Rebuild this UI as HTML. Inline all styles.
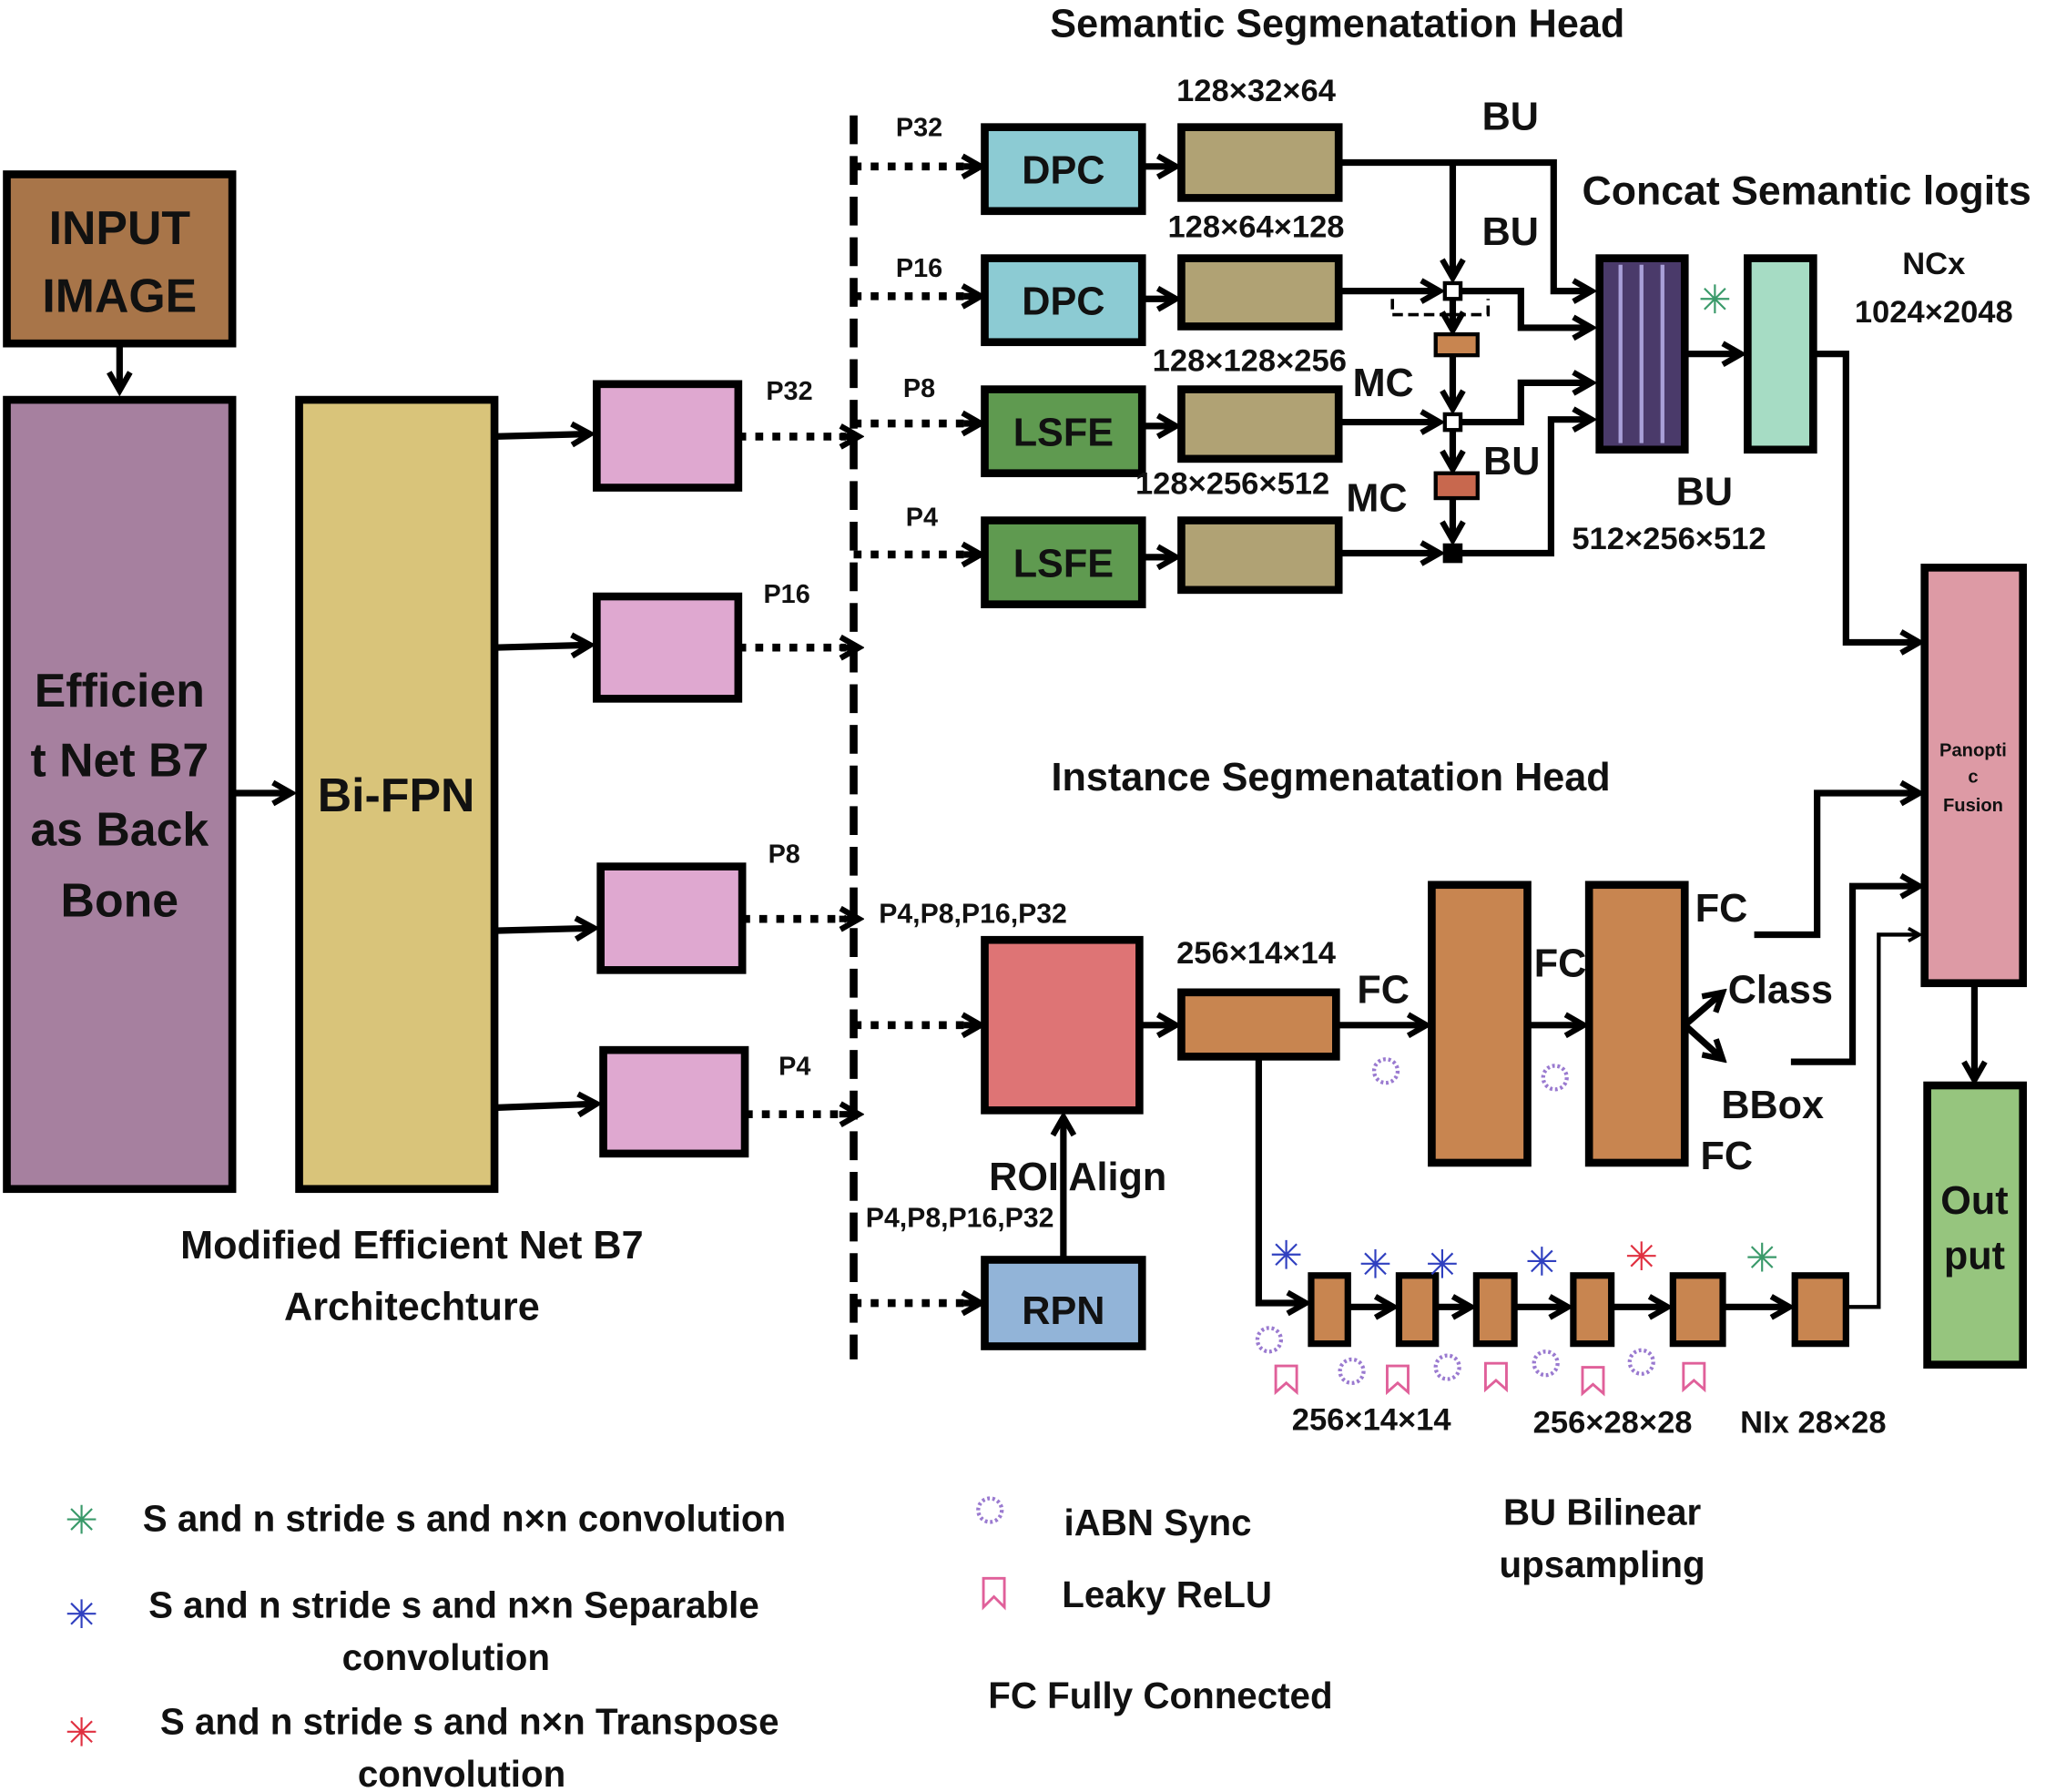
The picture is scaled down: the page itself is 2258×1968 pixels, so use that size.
<!DOCTYPE html>
<html><head><meta charset="utf-8"><style>
html,body{margin:0;padding:0;background:#fff;}
svg{display:block;}
text{font-family:"Liberation Sans",sans-serif;font-weight:bold;fill:#111;}
</style></head><body>
<svg width="2258" height="1968" viewBox="0 0 1568 1367" xmlns="http://www.w3.org/2000/svg">
<defs>
<marker id="a" viewBox="0 0 10 10" refX="8" refY="5" markerWidth="4" markerHeight="4" orient="auto"><path d="M1,1 L8,5 L1,9" fill="none" stroke="#000" stroke-width="2.2"/></marker>
</defs>
<g stroke="#000" stroke-width="6">
<rect x="5" y="133" width="172" height="129" fill="#a87549"/>
<rect x="5" y="305" width="172" height="602" fill="#a6809f"/>
<rect x="228" y="305" width="149" height="602" fill="#d9c47a"/>
<rect x="455" y="293" width="108" height="79" fill="#dfa8d0"/>
<rect x="455" y="455" width="108" height="78" fill="#dfa8d0"/>
<rect x="458" y="661" width="108" height="79" fill="#dfa8d0"/>
<rect x="460" y="801" width="108" height="79" fill="#dfa8d0"/>
<rect x="751" y="97" width="120" height="64" fill="#8ccbd3"/>
<rect x="751" y="197" width="120" height="64" fill="#8ccbd3"/>
<rect x="751" y="297" width="120" height="64" fill="#5f9a50"/>
<rect x="751" y="397" width="120" height="64" fill="#5f9a50"/>
<rect x="901" y="97" width="120" height="54" fill="#b0a274"/>
<rect x="901" y="197" width="120" height="52" fill="#b0a274"/>
<rect x="901" y="297" width="120" height="53" fill="#b0a274"/>
<rect x="901" y="397" width="120" height="53" fill="#b0a274"/>
<rect x="1220" y="197" width="65" height="146" fill="#4a3a6a"/>
<rect x="1333" y="197" width="50" height="146" fill="#a6dcc4"/>
<rect x="1468" y="433" width="75" height="317" fill="#dd9aa5"/>
<rect x="1470" y="828" width="73" height="213" fill="#96c57e"/>
<rect x="751" y="717" width="118" height="130" fill="#de7475"/>
<rect x="901" y="757" width="118" height="49" fill="#c88550"/>
<rect x="1092" y="675" width="73" height="212" fill="#c88550"/>
<rect x="1212" y="675" width="73" height="212" fill="#c88550"/>
<rect x="751" y="961" width="120" height="66" fill="#92b4d8"/>
</g>
<g stroke="#a9a0d8" stroke-width="3">
<line x1="1236" y1="202" x2="1236" y2="338"/><line x1="1252" y1="202" x2="1252" y2="338"/><line x1="1268" y1="202" x2="1268" y2="338"/>
</g>
<g stroke="#000" stroke-width="5" fill="#c88550">
<rect x="1000" y="973" width="28" height="52"/><rect x="1067" y="973" width="28" height="52"/>
<rect x="1126" y="973" width="29" height="52"/><rect x="1200" y="973" width="29" height="52"/>
<rect x="1276" y="973" width="38" height="52"/><rect x="1369" y="973" width="39" height="52"/>
</g>
<g stroke="#000" stroke-width="3">
<rect x="1095" y="255" width="32" height="16" fill="#c88550"/>
<rect x="1095" y="361" width="32" height="19" fill="#c8684e"/>
<rect x="1102" y="216" width="12" height="12" fill="#fff"/>
<rect x="1102" y="316" width="12" height="12" fill="#fff"/>
<rect x="1102" y="416" width="12" height="12" fill="#000"/>
</g>
<!-- solid arrows -->
<g stroke="#000" stroke-width="5" fill="none" marker-end="url(#a)">
<path d="M91,262 V298"/>
<path d="M177,605 H222"/>
<path d="M377,333 L450,331"/><path d="M377,494 L450,492"/><path d="M377,710 L453,708"/><path d="M377,845 L455,842"/>
<path d="M871,127 H897"/><path d="M871,228 H897"/><path d="M871,325 H897"/><path d="M871,425 H897"/>
<path d="M1021,124 H1185 V222 H1214"/>
<path d="M1108,124 V212"/>
<path d="M1021,222 H1098"/>
<path d="M1021,322 H1098"/>
<path d="M1021,422 H1098"/>
<path d="M1108,228 V252"/><path d="M1108,271 V312"/><path d="M1108,328 V358"/><path d="M1108,380 V412"/>
<path d="M1114,222 H1160 V250 H1214"/>
<path d="M1114,322 H1160 V292 H1214"/>
<path d="M1114,422 H1183 V320 H1214"/>
<path d="M1285,270 H1328"/>
<path d="M1383,270 H1408 V490 H1464"/>
<path d="M1506,750 V824"/>
<path d="M869,782 H897"/><path d="M1019,782 H1088"/><path d="M1165,782 H1208"/>
<path d="M811,961 V852"/>
<path d="M960,806 V994 H996"/>
<path d="M1028,997 H1063"/><path d="M1095,997 H1122"/><path d="M1155,997 H1196"/><path d="M1229,997 H1272"/><path d="M1314,997 H1365"/>
<path d="M1338,713 H1386 V605 H1464"/>
<path d="M1366,810 H1413 V676 H1464"/>
<path d="M1285,782 L1314,757"/><path d="M1285,782 L1314,808"/>
</g>
<path d="M1408,997 H1433 V713 H1464" stroke="#000" stroke-width="3" fill="none" marker-end="url(#a)"/>
<path d="M1062,228 V240 H1135 V228" stroke="#000" stroke-width="2.5" stroke-dasharray="8,4" fill="none"/>
<!-- dashed vertical -->
<line x1="651" y1="88" x2="651" y2="1037" stroke="#000" stroke-width="6" stroke-dasharray="22,9"/>
<!-- dotted arrows -->
<g stroke="#000" stroke-width="6" stroke-dasharray="6,7" fill="none">
<path d="M563,333 H645"/><path d="M563,494 H645"/><path d="M566,701 H645"/><path d="M568,850 H645"/>
<path d="M651,127 H740"/><path d="M651,226 H740"/><path d="M651,323 H740"/><path d="M651,423 H740"/>
<path d="M651,782 H740"/><path d="M651,994 H740"/>
</g>
<g stroke="#000" stroke-width="5" fill="none" marker-end="url(#a)">
<path d="M640,333 H655"/><path d="M640,494 H655"/><path d="M640,701 H655"/><path d="M640,850 H655"/>
<path d="M735,127 H748"/><path d="M735,226 H748"/><path d="M735,323 H748"/><path d="M735,423 H748"/>
<path d="M735,782 H748"/><path d="M735,994 H748"/>
</g>
<!-- text -->
<g text-anchor="middle">
<text x="91" y="186" font-size="36">INPUT</text><text x="91" y="238" font-size="36">IMAGE</text>
<text x="91" y="539" font-size="36">Efficien</text><text x="91" y="592" font-size="36">t Net B7</text>
<text x="91" y="645" font-size="36">as Back</text><text x="91" y="699" font-size="36">Bone</text>
<text x="302" y="619" font-size="36">Bi-FPN</text>
<text x="811" y="140" font-size="30">DPC</text><text x="811" y="240" font-size="30">DPC</text>
<text x="811" y="340" font-size="30">LSFE</text><text x="811" y="440" font-size="30">LSFE</text>
<text x="811" y="1010" font-size="30">RPN</text>
<text x="1020" y="28" font-size="30">Semantic Segmenatation Head</text>
<text x="1015" y="603" font-size="30">Instance Segmenatation Head</text>
<text x="958" y="77" font-size="24">128×32×64</text>
<text x="958" y="181" font-size="24">128×64×128</text>
<text x="953" y="283" font-size="24">128×128×256</text>
<text x="940" y="377" font-size="24">128×256×512</text>
<text x="1055" y="302" font-size="30">MC</text><text x="1050" y="390" font-size="30">MC</text>
<text x="1152" y="99" font-size="30">BU</text><text x="1152" y="187" font-size="30">BU</text>
<text x="1153" y="362" font-size="30">BU</text><text x="1300" y="385" font-size="30">BU</text>
<text x="1378" y="156" font-size="31">Concat Semantic logits</text>
<text x="1475" y="209" font-size="24">NCx</text><text x="1475" y="246" font-size="24">1024×2048</text>
<text x="1273" y="419" font-size="24">512×256×512</text>
<text x="602" y="305" font-size="20">P32</text><text x="600" y="460" font-size="20">P16</text>
<text x="598" y="658" font-size="20">P8</text><text x="606" y="820" font-size="20">P4</text>
<text x="701" y="104" font-size="20">P32</text><text x="701" y="211" font-size="20">P16</text>
<text x="701" y="303" font-size="20">P8</text><text x="703" y="401" font-size="20">P4</text>
<text x="742" y="704" font-size="21">P4,P8,P16,P32</text>
<text x="732" y="936" font-size="21">P4,P8,P16,P32</text>
<text x="822" y="908" font-size="30">ROI Align</text>
<text x="958" y="735" font-size="24">256×14×14</text>
<text x="1055" y="765" font-size="30">FC</text><text x="1190" y="745" font-size="30">FC</text>
<text x="1313" y="703" font-size="30">FC</text><text x="1358" y="765" font-size="30">Class</text>
<text x="1352" y="853" font-size="30">BBox</text><text x="1317" y="892" font-size="30">FC</text>
<text x="1505" y="577" font-size="14">Panopti</text><text x="1505" y="597" font-size="14">c</text><text x="1505" y="619" font-size="14">Fusion</text>
<text x="1506" y="926" font-size="30">Out</text><text x="1506" y="968" font-size="30">put</text>
<text x="1046" y="1091" font-size="24">256×14×14</text>
<text x="1230" y="1093" font-size="24">256×28×28</text>
<text x="1383" y="1093" font-size="24">NIx 28×28</text>
<text x="314" y="960" font-size="30">Modified Efficient Net B7</text>
<text x="314" y="1007" font-size="30">Architechture</text>
<text x="354" y="1168" font-size="28">S and n stride s and n×n convolution</text>
<text x="346" y="1234" font-size="28">S and n stride s and n×n Separable</text>
<text x="340" y="1274" font-size="28">convolution</text>
<text x="358" y="1323" font-size="28">S and n stride s and n×n Transpose</text>
<text x="352" y="1363" font-size="28">convolution</text>
<text x="883" y="1171" font-size="28">iABN Sync</text>
<text x="890" y="1226" font-size="28">Leaky ReLU</text>
<text x="885" y="1303" font-size="28">FC Fully Connected</text>
<text x="1222" y="1163" font-size="28">BU Bilinear</text>
<text x="1222" y="1203" font-size="28">upsampling</text>
</g>
<!-- star icons -->
<g stroke-width="1.5">
<g stroke="#3a9a6a"><path d="M1308,217 V239 M1297,228 H1319 M1300,220 L1316,236 M1316,220 L1300,236"/>
<path d="M1344,948 V970 M1333,959 H1355 M1336,951 L1352,967 M1352,951 L1336,967"/>
<path d="M62,1148 V1170 M51,1159 H73 M54,1151 L70,1167 M70,1151 L54,1167"/></g>
<g stroke="#3040c0"><path d="M981,946 V968 M970,957 H992 M973,949 L989,965 M989,949 L973,965"/>
<path d="M1049,953 V975 M1038,964 H1060 M1041,956 L1057,972 M1057,956 L1041,972"/>
<path d="M1100,953 V975 M1089,964 H1111 M1092,956 L1108,972 M1108,956 L1092,972"/>
<path d="M1176,951 V973 M1165,962 H1187 M1168,954 L1184,970 M1184,954 L1168,970"/>
<path d="M62,1220 V1242 M51,1231 H73 M54,1223 L70,1239 M70,1223 L54,1239"/></g>
<g stroke="#e03040"><path d="M1252,947 V969 M1241,958 H1263 M1244,950 L1260,966 M1260,950 L1244,966"/>
<path d="M62,1310 V1332 M51,1321 H73 M54,1313 L70,1329 M70,1313 L54,1329"/></g>
</g>
<!-- iABN rings -->
<g fill="none" stroke="#9a7ad0" stroke-width="3" stroke-dasharray="2,2">
<circle cx="1057" cy="817" r="9"/><circle cx="1186" cy="822" r="9"/>
<circle cx="968" cy="1022" r="9"/><circle cx="1031" cy="1046" r="9"/><circle cx="1104" cy="1043" r="9"/>
<circle cx="1179" cy="1040" r="9"/><circle cx="1252" cy="1039" r="9"/><circle cx="755" cy="1152" r="9"/>
</g>
<!-- leaky relu icons -->
<g fill="none" stroke="#e0609a" stroke-width="2">
<path d="M973,1042 V1062 L981,1055 L989,1062 V1042 Z"/>
<path d="M1058,1042 V1062 L1066,1055 L1074,1062 V1042 Z"/>
<path d="M1133,1040 V1060 L1141,1053 L1149,1060 V1040 Z"/>
<path d="M1207,1043 V1063 L1215,1056 L1223,1063 V1043 Z"/>
<path d="M1284,1040 V1060 L1292,1053 L1300,1060 V1040 Z"/>
<path d="M750,1204 V1226 L758,1218 L766,1226 V1204 Z"/>
</g>
</svg>
</body></html>
